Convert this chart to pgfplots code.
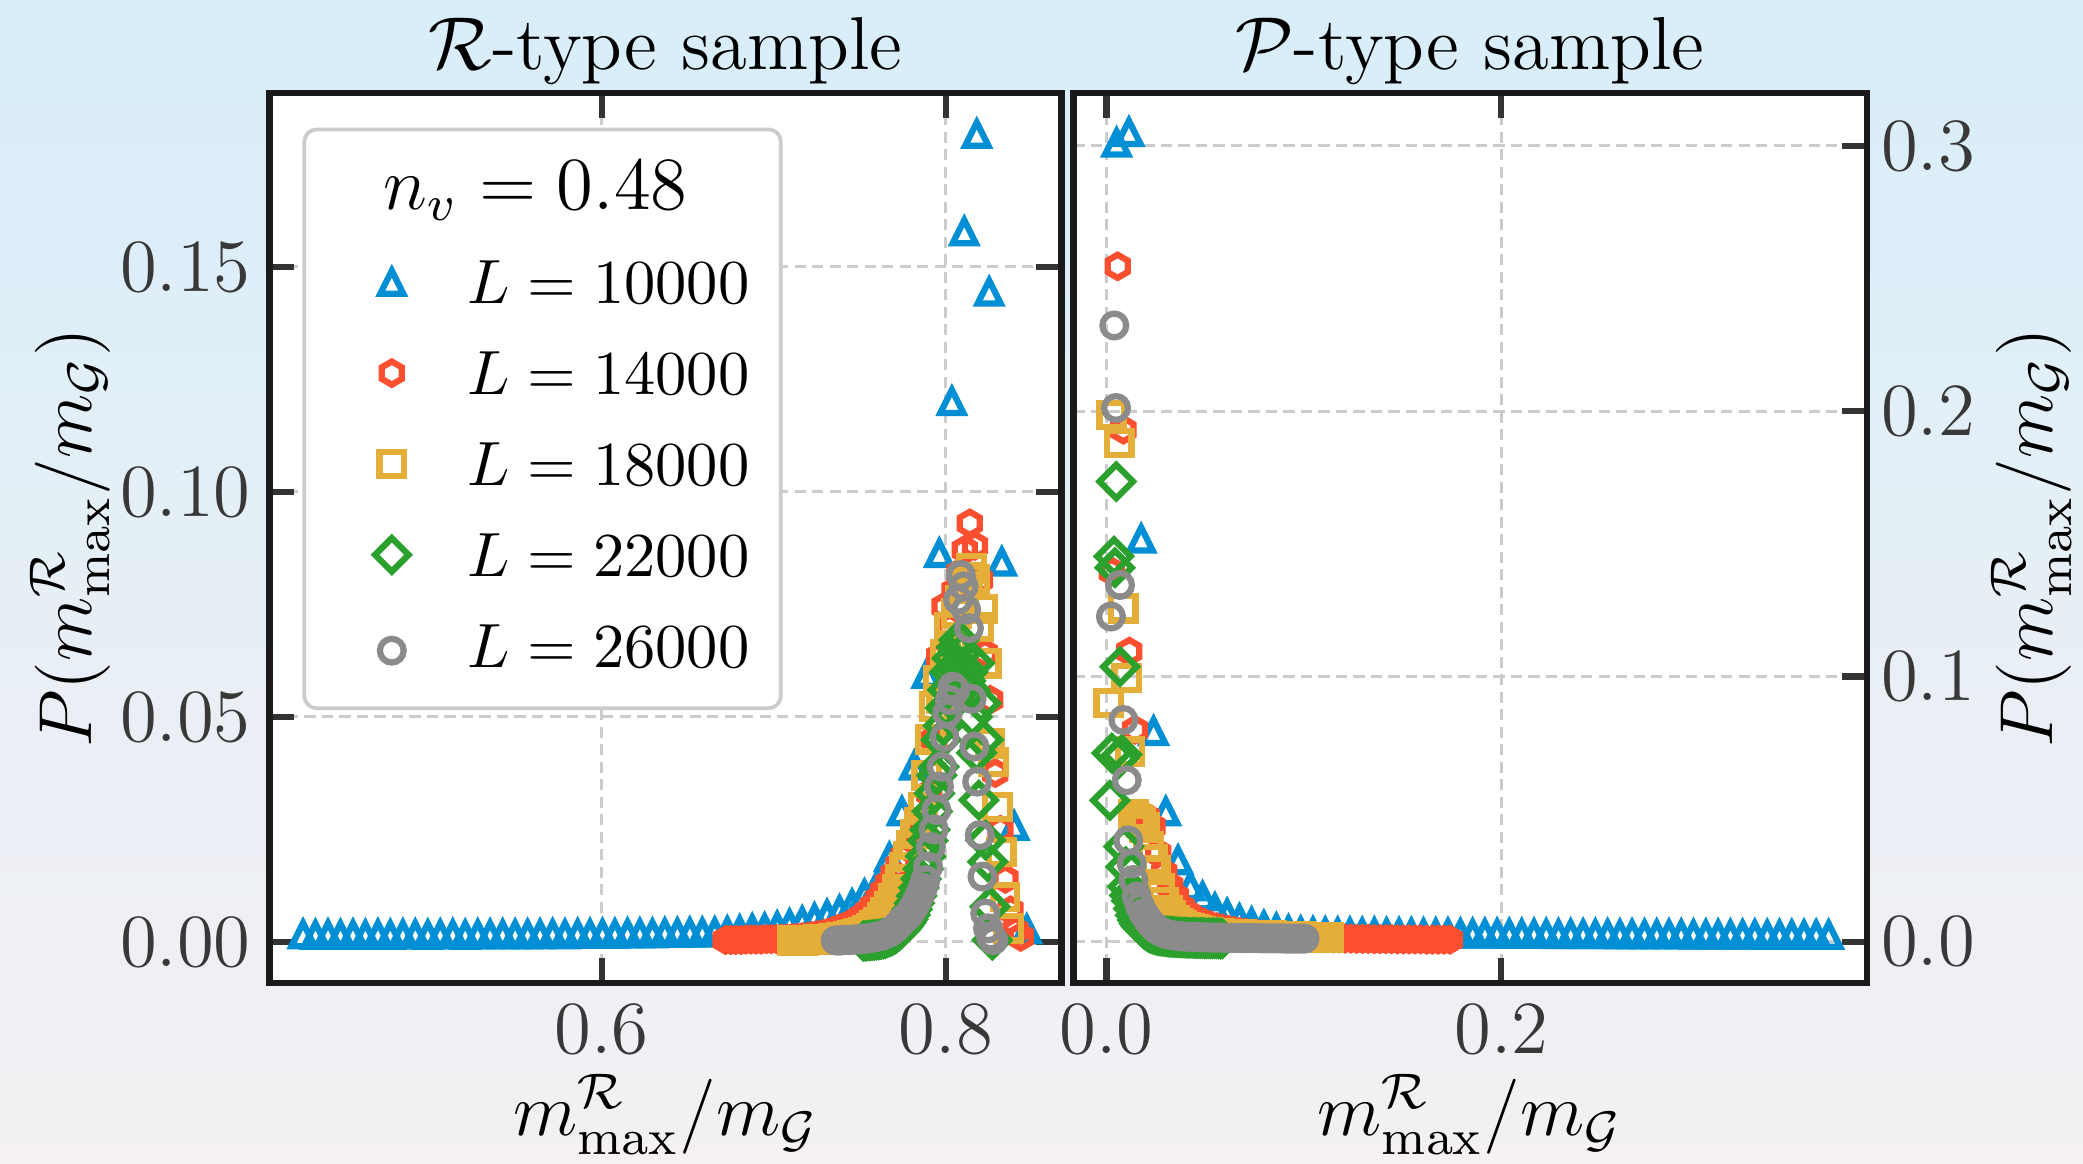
\documentclass[border=0pt]{standalone}
\usepackage{pgfplots}
\pgfplotsset{compat=1.18}
\usetikzlibrary{backgrounds}
\definecolor{cblue}{RGB}{0,143,213}
\definecolor{cred}{RGB}{252,79,48}
\definecolor{corange}{RGB}{229,174,56}
\definecolor{cgreen}{RGB}{44,160,44}
\definecolor{cgray}{RGB}{139,139,139}
\definecolor{bgtop}{RGB}{216,238,249}
\definecolor{bgbot}{RGB}{244,240,243}
\definecolor{framec}{RGB}{26,26,26}
\definecolor{tickc}{RGB}{51,51,51}
\definecolor{gridc}{RGB}{204,204,204}

% matplotlib-like open markers
\pgfdeclareplotmark{mtri}{%
  \pgfpathmoveto{\pgfqpoint{0pt}{\pgfplotmarksize}}%
  \pgfpathlineto{\pgfqpoint{-\pgfplotmarksize}{-\pgfplotmarksize}}%
  \pgfpathlineto{\pgfqpoint{\pgfplotmarksize}{-\pgfplotmarksize}}%
  \pgfpathclose\pgfusepathqstroke}
\pgfdeclareplotmark{mhex}{%
  \pgfpathmoveto{\pgfqpoint{0pt}{\pgfplotmarksize}}%
  \pgfpathlineto{\pgfqpoint{-0.866\pgfplotmarksize}{0.5\pgfplotmarksize}}%
  \pgfpathlineto{\pgfqpoint{-0.866\pgfplotmarksize}{-0.5\pgfplotmarksize}}%
  \pgfpathlineto{\pgfqpoint{0pt}{-\pgfplotmarksize}}%
  \pgfpathlineto{\pgfqpoint{0.866\pgfplotmarksize}{-0.5\pgfplotmarksize}}%
  \pgfpathlineto{\pgfqpoint{0.866\pgfplotmarksize}{0.5\pgfplotmarksize}}%
  \pgfpathclose\pgfusepathqstroke}
\pgfdeclareplotmark{mdia}{%
  \pgfpathmoveto{\pgfqpoint{0pt}{\pgfplotmarksize}}%
  \pgfpathlineto{\pgfqpoint{-\pgfplotmarksize}{0pt}}%
  \pgfpathlineto{\pgfqpoint{0pt}{-\pgfplotmarksize}}%
  \pgfpathlineto{\pgfqpoint{\pgfplotmarksize}{0pt}}%
  \pgfpathclose\pgfusepathqstroke}
\pgfdeclareplotmark{msq}{%
  \pgfpathrectangle{\pgfqpoint{-\pgfplotmarksize}{-\pgfplotmarksize}}{\pgfqpoint{2\pgfplotmarksize}{2\pgfplotmarksize}}%
  \pgfusepathqstroke}
\pgfdeclareplotmark{mcirc}{%
  \pgfpathcircle{\pgfpointorigin}{\pgfplotmarksize}\pgfusepathqstroke}

\pgfplotsset{
  panel/.style={
    scale only axis, height=142.4pt,
    axis line style={framec, line width=1pt},
    axis background/.style={fill=white},
    tick align=inside, major tick length=4pt,
    every tick/.style={tickc, line width=1pt},
    grid=major,
    grid style={gridc, dash pattern=on 1.8pt off 1pt, line width=0.45pt},
    tick label style={font=\fontsize{12}{14}\selectfont, text=black!78},
    scaled ticks=false,
    xtick pos=both, xticklabel pos=bottom,
    xticklabel style={anchor=base, yshift=-11.3pt,
      /pgf/number format/.cd, fixed, fixed zerofill, precision=1},
    every axis title/.style={at={(axis description cs:0.5,1)}, anchor=base,
      yshift=3.8pt, font=\fontsize{12}{14}\selectfont},
    every axis x label/.style={at={(axis description cs:0.5,0)}, anchor=base,
      yshift=-24.4pt, font=\fontsize{12}{14}\selectfont},
    xlabel={$m^{\mathcal{R}}_{\max}/m_{\mathcal{G}}$},
    ylabel={$P(m^{\mathcal{R}}_{\max}/m_{\mathcal{G}})$},
    legend image code/.code={\path (0pt,0pt) (20.5pt,0pt);
      \draw[##1] plot coordinates {(8.7pt,0pt)};},
  },
  mk/.style={only marks, mark options={line width=1pt, solid, sharp corners, fill=none}},
  sB/.style={mk, color=cblue, mark=mtri, mark size=1.85pt},
  sR/.style={mk, color=cred, mark=mhex, mark size=1.85pt},
  sO/.style={mk, color=corange, mark=msq, mark size=1.95pt},
  sG/.style={mk, color=cgreen, mark=mdia, mark size=2.68pt},
  sK/.style={mk, color=cgray, mark=mcirc, mark size=1.9pt},
}

\begin{document}
\begin{tikzpicture}
% ---------------- left: R-type sample ----------------
\begin{axis}[panel, width=126.7pt,
  at={(0pt,0pt)}, anchor=south west,
  xmin=0.40695, xmax=0.8672, ymin=-0.00915, ymax=0.18868,
  xtick={0.6,0.8}, ytick={0,0.05,0.1,0.15},
  ytick pos=both, yticklabel pos=left,
  yticklabel style={anchor=east, inner xsep=0pt, xshift=-2.8pt,
    /pgf/number format/.cd, fixed, fixed zerofill, precision=2},
  every axis y label/.style={at={(axis description cs:0,0.5)}, xshift=-28.5pt,
    rotate=90, anchor=base, font=\fontsize{12}{14}\selectfont},
  title={$\mathcal{R}$-type sample},
  legend cell align=left,
  legend style={at={(axis description cs:0.0416,0.961)}, anchor=north west,
    draw=gridc, line width=0.6pt, fill=white, rounded corners=2pt,
    font=\fontsize{10}{12}\selectfont, inner xsep=5pt, inner ysep=5pt,
    row sep=7.7pt, nodes={inner sep=0pt, text depth=0pt}},
]
\addlegendimage{empty legend}
\addlegendentry[text depth=0.6pt]{\fontsize{12}{14}\selectfont\hspace*{-13.4pt}$n_v = 0.48$}

\addplot[sB] coordinates {
(0.4265,0.0016)(0.4337,0.0015)(0.4410,0.0016)(0.4482,0.0015)(0.4555,0.0016)
(0.4627,0.0015)(0.4700,0.0016)(0.4772,0.0015)(0.4845,0.0016)(0.4917,0.0016)
(0.4990,0.0015)(0.5062,0.0016)(0.5135,0.0016)(0.5207,0.0015)(0.5280,0.0016)
(0.5352,0.0016)(0.5425,0.0016)(0.5497,0.0016)(0.5570,0.0016)(0.5642,0.0016)
(0.5715,0.0017)(0.5787,0.0016)(0.5860,0.0017)(0.5932,0.0017)(0.6005,0.0017)
(0.6077,0.0017)(0.6150,0.0018)(0.6222,0.0018)(0.6295,0.0018)(0.6367,0.0019)
(0.6440,0.0019)(0.6512,0.0020)(0.6585,0.0020)(0.6657,0.0021)(0.6730,0.0023)
(0.6802,0.0025)(0.6875,0.0028)(0.6947,0.0030)(0.7020,0.0034)(0.7092,0.0039)
(0.7165,0.0045)(0.7237,0.0052)(0.7310,0.0060)(0.7382,0.0069)(0.7455,0.0083)
(0.7527,0.0105)(0.7600,0.0125)(0.7672,0.0187)(0.7745,0.0289)(0.7817,0.0391)
(0.7890,0.0595)(0.7962,0.0863)(0.8035,0.1201)(0.8107,0.1578)(0.8180,0.1795)
(0.8252,0.1444)(0.8325,0.0844)(0.8397,0.0257)(0.8470,0.0027)};
\addlegendentry{$L = 10000$}

\addplot[sR] coordinates {
(0.6720,0.0004)(0.6750,0.0004)(0.6779,0.0004)(0.6809,0.0004)(0.6838,0.0005)
(0.6868,0.0005)(0.6897,0.0005)(0.6927,0.0005)(0.6957,0.0006)(0.6986,0.0006)
(0.7016,0.0006)(0.7045,0.0007)(0.7075,0.0007)(0.7104,0.0008)(0.7134,0.0009)
(0.7164,0.0010)(0.7193,0.0011)(0.7223,0.0013)(0.7252,0.0015)(0.7282,0.0017)
(0.7311,0.0020)(0.7341,0.0024)(0.7371,0.0028)(0.7400,0.0032)(0.7430,0.0037)
(0.7459,0.0043)(0.7489,0.0050)(0.7518,0.0058)(0.7548,0.0068)(0.7578,0.0080)
(0.7607,0.0095)(0.7637,0.0112)(0.7666,0.0130)(0.7696,0.0150)(0.7725,0.0170)
(0.7755,0.0190)(0.7785,0.0208)(0.7814,0.0225)(0.7844,0.0245)(0.7873,0.0270)
(0.7903,0.0330)(0.7932,0.0450)(0.7962,0.0634)(0.7992,0.0745)(0.8021,0.0700)
(0.8051,0.0780)(0.8080,0.0820)(0.8110,0.0871)(0.8139,0.0930)(0.8169,0.0880)
(0.8199,0.0804)(0.8228,0.0641)(0.8258,0.0538)(0.8287,0.0375)(0.8317,0.0249)
(0.8346,0.0140)(0.8376,0.0070)(0.8405,0.0025)(0.8435,0.0011)};
\addlegendentry{$L = 14000$}

\addplot[sO] coordinates {
(0.7110,0.0003)(0.7132,0.0003)(0.7153,0.0003)(0.7175,0.0003)(0.7197,0.0004)
(0.7218,0.0004)(0.7240,0.0004)(0.7261,0.0005)(0.7283,0.0005)(0.7305,0.0006)
(0.7326,0.0006)(0.7348,0.0007)(0.7370,0.0008)(0.7391,0.0009)(0.7413,0.0010)
(0.7435,0.0012)(0.7456,0.0014)(0.7478,0.0016)(0.7500,0.0019)(0.7521,0.0022)
(0.7543,0.0026)(0.7564,0.0030)(0.7586,0.0036)(0.7608,0.0044)(0.7629,0.0054)
(0.7651,0.0066)(0.7673,0.0080)(0.7694,0.0097)(0.7716,0.0117)(0.7738,0.0140)
(0.7759,0.0165)(0.7781,0.0190)(0.7802,0.0215)(0.7824,0.0240)(0.7846,0.0265)
(0.7867,0.0300)(0.7889,0.0370)(0.7911,0.0450)(0.7932,0.0523)(0.7954,0.0582)
(0.7976,0.0540)(0.7997,0.0640)(0.8019,0.0700)(0.8040,0.0660)(0.8062,0.0730)
(0.8084,0.0760)(0.8105,0.0790)(0.8127,0.0810)(0.8149,0.0830)(0.8170,0.0806)
(0.8192,0.0700)(0.8214,0.0740)(0.8235,0.0619)(0.8257,0.0441)(0.8278,0.0400)
(0.8300,0.0300)(0.8322,0.0200)(0.8343,0.0100)(0.8365,0.0030)};
\addlegendentry{$L = 18000$}

\addplot[sG] coordinates {
(0.7520,0.0002)(0.7533,0.0002)(0.7546,0.0003)(0.7559,0.0003)(0.7572,0.0004)
(0.7585,0.0004)(0.7598,0.0005)(0.7611,0.0005)(0.7623,0.0006)(0.7636,0.0007)
(0.7649,0.0008)(0.7662,0.0010)(0.7675,0.0012)(0.7688,0.0014)(0.7701,0.0017)
(0.7714,0.0020)(0.7727,0.0024)(0.7740,0.0029)(0.7753,0.0035)(0.7766,0.0042)
(0.7779,0.0050)(0.7792,0.0060)(0.7804,0.0072)(0.7817,0.0086)(0.7830,0.0102)
(0.7843,0.0120)(0.7856,0.0140)(0.7869,0.0162)(0.7882,0.0190)(0.7895,0.0225)
(0.7908,0.0249)(0.7921,0.0290)(0.7934,0.0330)(0.7947,0.0370)(0.7960,0.0389)
(0.7973,0.0449)(0.7985,0.0480)(0.7998,0.0520)(0.8011,0.0560)(0.8024,0.0600)
(0.8037,0.0630)(0.8050,0.0610)(0.8063,0.0655)(0.8076,0.0671)(0.8089,0.0640)
(0.8102,0.0610)(0.8115,0.0580)(0.8128,0.0600)(0.8141,0.0560)(0.8154,0.0500)
(0.8166,0.0619)(0.8179,0.0420)(0.8192,0.0315)(0.8205,0.0530)(0.8218,0.0449)
(0.8231,0.0226)(0.8244,0.0178)(0.8257,0.0078)(0.8270,0.0004)};
\addlegendentry{$L = 22000$}

\addplot[sK] coordinates {
(0.7360,0.0003)(0.7376,0.0003)(0.7392,0.0003)(0.7407,0.0004)(0.7423,0.0004)
(0.7439,0.0004)(0.7455,0.0005)(0.7471,0.0005)(0.7486,0.0006)(0.7502,0.0006)
(0.7518,0.0007)(0.7534,0.0007)(0.7550,0.0008)(0.7565,0.0009)(0.7581,0.0010)
(0.7597,0.0011)(0.7613,0.0012)(0.7629,0.0014)(0.7644,0.0016)(0.7660,0.0019)
(0.7676,0.0022)(0.7692,0.0026)(0.7708,0.0031)(0.7723,0.0037)(0.7739,0.0044)
(0.7755,0.0050)(0.7771,0.0055)(0.7787,0.0062)(0.7802,0.0070)(0.7818,0.0080)
(0.7834,0.0092)(0.7850,0.0105)(0.7866,0.0120)(0.7881,0.0137)(0.7897,0.0167)
(0.7913,0.0211)(0.7929,0.0250)(0.7945,0.0293)(0.7960,0.0345)(0.7976,0.0389)
(0.7992,0.0455)(0.8008,0.0508)(0.8024,0.0537)(0.8039,0.0567)(0.8055,0.0560)
(0.8071,0.0760)(0.8087,0.0815)(0.8103,0.0790)(0.8118,0.0738)(0.8134,0.0697)
(0.8150,0.0540)(0.8166,0.0434)(0.8182,0.0356)(0.8197,0.0237)(0.8213,0.0145)
(0.8229,0.0063)(0.8245,0.0030)(0.8261,0.0012)(0.8276,0.0004)};
\addlegendentry[text depth=1.6pt]{$L = 26000$}
\end{axis}

% ---------------- right: P-type sample ----------------
\begin{axis}[panel, width=126.9pt,
  at={(128.6pt,0pt)}, anchor=south west,
  xmin=-0.01684, xmax=0.3852, ymin=-0.01553, ymax=0.32,
  xtick={0,0.2}, ytick={0,0.1,0.2,0.3},
  ytick pos=right, yticklabel pos=right,
  yticklabel style={anchor=west, inner xsep=0pt, xshift=2.1pt,
    /pgf/number format/.cd, fixed, fixed zerofill, precision=1},
  every axis y label/.style={at={(axis description cs:1,0.5)}, xshift=29.75pt,
    rotate=90, anchor=base, font=\fontsize{12}{14}\selectfont},
  title={$\mathcal{P}$-type sample},
]
\addplot[sB] coordinates {
(0.0051,0.3011)(0.0113,0.3051)(0.0175,0.1518)(0.0238,0.0793)(0.0300,0.0490)
(0.0362,0.0306)(0.0424,0.0208)(0.0486,0.0170)(0.0549,0.0126)(0.0611,0.0105)
(0.0673,0.0085)(0.0735,0.0072)(0.0797,0.0060)(0.0860,0.0050)(0.0922,0.0043)
(0.0984,0.0038)(0.1046,0.0036)(0.1108,0.0035)(0.1171,0.0034)(0.1233,0.0034)
(0.1295,0.0033)(0.1357,0.0033)(0.1419,0.0032)(0.1482,0.0032)(0.1544,0.0032)
(0.1606,0.0031)(0.1668,0.0031)(0.1730,0.0031)(0.1793,0.0030)(0.1855,0.0030)
(0.1917,0.0030)(0.1979,0.0030)(0.2041,0.0029)(0.2104,0.0029)(0.2166,0.0029)
(0.2228,0.0029)(0.2290,0.0028)(0.2352,0.0028)(0.2415,0.0028)(0.2477,0.0028)
(0.2539,0.0028)(0.2601,0.0027)(0.2663,0.0027)(0.2726,0.0027)(0.2788,0.0027)
(0.2850,0.0027)(0.2912,0.0027)(0.2974,0.0026)(0.3037,0.0026)(0.3099,0.0026)
(0.3161,0.0026)(0.3223,0.0026)(0.3285,0.0026)(0.3348,0.0025)(0.3410,0.0025)
(0.3472,0.0025)(0.3534,0.0025)(0.3596,0.0025)(0.3659,0.0025)};

\addplot[sR] coordinates {
(0.0026,0.1396)(0.0056,0.2546)(0.0085,0.1930)(0.0115,0.1094)(0.0144,0.0799)
(0.0174,0.0457)(0.0203,0.0470)(0.0233,0.0434)(0.0262,0.0334)(0.0292,0.0260)
(0.0322,0.0210)(0.0351,0.0170)(0.0381,0.0130)(0.0410,0.0108)(0.0440,0.0092)
(0.0469,0.0080)(0.0499,0.0070)(0.0528,0.0062)(0.0558,0.0055)(0.0587,0.0050)
(0.0617,0.0045)(0.0647,0.0041)(0.0676,0.0037)(0.0706,0.0034)(0.0735,0.0031)
(0.0765,0.0029)(0.0794,0.0027)(0.0824,0.0025)(0.0853,0.0023)(0.0883,0.0022)
(0.0913,0.0021)(0.0942,0.0020)(0.0972,0.0019)(0.1001,0.0018)(0.1031,0.0017)
(0.1060,0.0016)(0.1090,0.0015)(0.1119,0.0014)(0.1149,0.0013)(0.1178,0.0013)
(0.1208,0.0012)(0.1238,0.0012)(0.1267,0.0011)(0.1297,0.0011)(0.1326,0.0011)
(0.1356,0.0010)(0.1385,0.0010)(0.1415,0.0010)(0.1444,0.0010)(0.1474,0.0009)
(0.1504,0.0009)(0.1533,0.0009)(0.1563,0.0009)(0.1592,0.0009)(0.1622,0.0008)
(0.1651,0.0008)(0.1681,0.0008)(0.1710,0.0008)(0.1740,0.0008)};

\addplot[sO] coordinates {
(0.0010,0.0900)(0.0026,0.1986)(0.0064,0.1880)(0.0085,0.1257)(0.0102,0.0994)
(0.0119,0.0717)(0.0136,0.0480)(0.0155,0.0460)(0.0174,0.0450)(0.0193,0.0430)
(0.0212,0.0360)(0.0231,0.0310)(0.0250,0.0270)(0.0269,0.0200)(0.0288,0.0150)
(0.0307,0.0120)(0.0326,0.0098)(0.0345,0.0082)(0.0364,0.0070)(0.0383,0.0062)
(0.0402,0.0055)(0.0421,0.0050)(0.0440,0.0046)(0.0459,0.0042)(0.0478,0.0039)
(0.0497,0.0037)(0.0516,0.0035)(0.0535,0.0033)(0.0554,0.0032)(0.0573,0.0031)
(0.0592,0.0030)(0.0611,0.0029)(0.0630,0.0028)(0.0649,0.0028)(0.0668,0.0027)
(0.0687,0.0027)(0.0706,0.0026)(0.0725,0.0026)(0.0744,0.0025)(0.0763,0.0025)
(0.0782,0.0024)(0.0801,0.0024)(0.0820,0.0023)(0.0839,0.0023)(0.0858,0.0022)
(0.0877,0.0022)(0.0896,0.0021)(0.0915,0.0021)(0.0934,0.0020)(0.0953,0.0020)
(0.0972,0.0019)(0.0991,0.0019)(0.1010,0.0018)(0.1029,0.0018)(0.1048,0.0017)
(0.1067,0.0017)(0.1086,0.0017)(0.1105,0.0016)(0.1124,0.0016)};

\addplot[sG] coordinates {
(0.0017,0.0533)(0.0027,0.0711)(0.0037,0.1453)(0.0042,0.1410)(0.0049,0.1735)
(0.0060,0.0690)(0.0068,0.1037)(0.0077,0.0706)(0.0087,0.0359)(0.0097,0.0283)
(0.0107,0.0208)(0.0117,0.0175)(0.0127,0.0154)(0.0137,0.0125)(0.0147,0.0100)
(0.0157,0.0082)(0.0167,0.0068)(0.0177,0.0058)(0.0187,0.0050)(0.0197,0.0044)
(0.0207,0.0039)(0.0217,0.0035)(0.0227,0.0032)(0.0237,0.0029)(0.0247,0.0027)
(0.0257,0.0025)(0.0267,0.0024)(0.0277,0.0023)(0.0287,0.0022)(0.0297,0.0021)
(0.0307,0.0020)(0.0317,0.0019)(0.0327,0.0019)(0.0337,0.0018)(0.0347,0.0018)
(0.0357,0.0017)(0.0367,0.0017)(0.0377,0.0016)(0.0387,0.0016)(0.0397,0.0016)
(0.0407,0.0015)(0.0417,0.0015)(0.0427,0.0015)(0.0437,0.0015)(0.0447,0.0014)
(0.0457,0.0014)(0.0467,0.0014)(0.0477,0.0014)(0.0487,0.0014)(0.0497,0.0013)
(0.0507,0.0013)(0.0517,0.0013)(0.0527,0.0013)(0.0537,0.0013)(0.0547,0.0013)
(0.0557,0.0013)(0.0567,0.0013)(0.0577,0.0012)(0.0587,0.0012)};

\addplot[sK] coordinates {
(0.0022,0.1226)(0.0039,0.2323)(0.0048,0.2012)(0.0068,0.1345)(0.0085,0.0836)
(0.0102,0.0609)(0.0110,0.0382)(0.0127,0.0295)(0.0136,0.0233)(0.0153,0.0170)
(0.0170,0.0135)(0.0187,0.0108)(0.0204,0.0090)(0.0221,0.0072)(0.0238,0.0058)
(0.0255,0.0047)(0.0272,0.0039)(0.0289,0.0033)(0.0306,0.0029)(0.0323,0.0026)
(0.0340,0.0024)(0.0357,0.0022)(0.0374,0.0021)(0.0391,0.0020)(0.0408,0.0019)
(0.0425,0.0019)(0.0442,0.0018)(0.0459,0.0018)(0.0476,0.0017)(0.0493,0.0017)
(0.0510,0.0017)(0.0527,0.0016)(0.0544,0.0016)(0.0561,0.0016)(0.0578,0.0016)
(0.0595,0.0015)(0.0612,0.0015)(0.0629,0.0015)(0.0646,0.0015)(0.0663,0.0015)
(0.0680,0.0014)(0.0697,0.0014)(0.0714,0.0014)(0.0731,0.0014)(0.0748,0.0014)
(0.0765,0.0014)(0.0782,0.0013)(0.0799,0.0013)(0.0816,0.0013)(0.0833,0.0013)
(0.0850,0.0013)(0.0867,0.0013)(0.0884,0.0013)(0.0901,0.0012)(0.0918,0.0012)
(0.0935,0.0012)(0.0952,0.0012)(0.0969,0.0012)(0.0986,0.0012)(0.1003,0.0012)};
\end{axis}

\begin{scope}[on background layer]
  \shade[top color=bgtop, bottom color=bgbot] (-43.1pt,-28.9pt) rectangle (290.1pt,157.25pt);
\end{scope}
\pgfresetboundingbox
\path[use as bounding box] (-43.1pt,-28.9pt) rectangle (290.1pt,157.25pt);
\end{tikzpicture}
\end{document}
